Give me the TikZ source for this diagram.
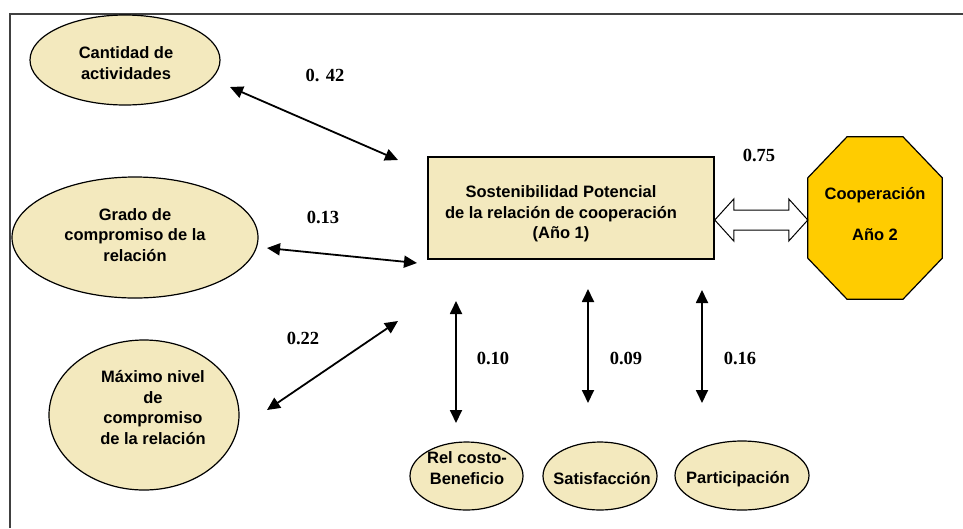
\documentclass[tikz,border=0pt]{standalone}
\usepackage{fontspec}
\setmainfont{Liberation Sans}
\newfontfamily\coeffont{Liberation Serif}
\usepackage{tikz}
\usetikzlibrary{arrows.meta,calc,shapes.geometric,positioning}

\begin{document}
\begin{tikzpicture}[x=1pt,y=-1pt]
\definecolor{factorFill}{RGB}{243, 233, 190}
			\definecolor{coopFill}{RGB}{255, 204, 0}
			\definecolor{frameColour}{RGB}{64, 64, 64}
			\tikzstyle{factor}=[ellipse, draw, fill=factorFill, line width=1.2pt, inner sep=0pt]
			\tikzstyle{caption}=[align=center, inner sep=0pt, font=\bfseries\fontsize{16.5}{20.5}\selectfont]
			\tikzstyle{coef}=[inner sep=0pt, font=\coeffont\bfseries\fontsize{18.5}{20}\selectfont]
			\tikzstyle{link}=[{Triangle[width=12pt,length=13pt]}-{Triangle[width=12pt,length=13pt]}, line width=1.8pt]

			\useasboundingbox (0,0) rectangle (963,528);
			\draw [frameColour, line width=1.5pt] (10,528) -- (10,14) -- (963,14);

			% factores de la izquierda
			\node [factor, minimum width=190pt, minimum height=90pt] (act) at (125,60) {};
			\node [factor, minimum width=246pt, minimum height=121pt] (grado) at (135,237.5) {};
			\node [factor, minimum width=190pt, minimum height=150pt] (maximo) at (144,415) {};
			\node [caption] at (126,63) {Cantidad de\\actividades};
			\node [caption] at (135,235) {Grado de\\compromiso de la\\relación};
			\node [caption] at (153,407.5) {Máximo nivel\\de\\compromiso\\de la relación};

			% caja central y octagono
			\node [draw, fill=factorFill, line width=1.5pt, minimum width=286pt, minimum height=102pt] (sost) at (571,208) {};
			\node [caption] at (561,214) {Sostenibilidad Potencial\\de la relación de cooperación\\(Año 1)};
			\node [minimum width=134pt, minimum height=162pt] (coop) at (875,218) {};
			\draw [fill=coopFill, line width=1.2pt] ([xshift=-28pt]coop.north) -- ([xshift=28pt]coop.north) -- ([yshift=-41pt]coop.north east) -- ([yshift=41pt]coop.south east) -- ([xshift=28pt]coop.south) -- ([xshift=-28pt]coop.south) -- ([yshift=41pt]coop.south west) -- ([yshift=-41pt]coop.north west) -- cycle;
			\node [caption] at (875,214.5) {Cooperación\\[20.5pt]Año 2};

			% factores de abajo
			\node [factor, minimum width=113pt, minimum height=68pt] (costo) at (466.5,476) {};
			\node [factor, minimum width=114pt, minimum height=68pt] (satis) at (600,476) {};
			\node [factor, minimum width=134pt, minimum height=69pt] (parti) at (742,475.5) {};
			\node [caption] at (467,468) {Rel costo-\\Beneficio};
			\node [caption] at (602,479) {Satisfacción};
			\node [caption] at (738,479) {Participación};

			% flechas
			\coordinate (a1) at (230,87);   \coordinate (b1) at (398,160);
			\coordinate (a2) at (267,248);  \coordinate (b2) at (417,263);
			\coordinate (a3) at (267,410);  \coordinate (b3) at (398,321);
			\coordinate (a4) at (456,301);  \coordinate (b4) at (456,423);
			\coordinate (a5) at (588,289);  \coordinate (b5) at (588,403);
			\coordinate (a6) at (702,290);  \coordinate (b6) at (702,403);
			\draw [link] (a1) -- (b1);
			\draw [link] (a2) -- (b2);
			\draw [link] (a3) -- (b3);
			\draw [link] (a4) -- (b4);
			\draw [link] (a5) -- (b5);
			\draw [link] (a6) -- (b6);

			\coordinate (dl) at ([yshift=-12pt]sost.east);
			\coordinate (dr) at (dl -| coop.west);
			\draw [fill=white, line width=1pt] (dl) -- ++(19,-21) -- ++(0,11) -- ($(dr)+(-19,-10)$) -- ++(0,-11) -- (dr) -- ++(-19,21) -- ++(0,-11) -- ($(dl)+(19,10)$) -- ++(0,11) -- cycle;

			\node [coef] (c42) at (325,75) {0. 42};
			\node [coef] (c13) at (323,217) {0.13};
			\node [coef] (c22) at (303,338) {0.22};
			\node [coef] (c75) at (759,155) {0.75};
			\node [coef] (c10) at (493,358) {0.10};
			\node [coef] (c09) at (626,358) {0.09};
			\node [coef] (c16) at (740,358) {0.16};
		\end{tikzpicture}
\end{document}
